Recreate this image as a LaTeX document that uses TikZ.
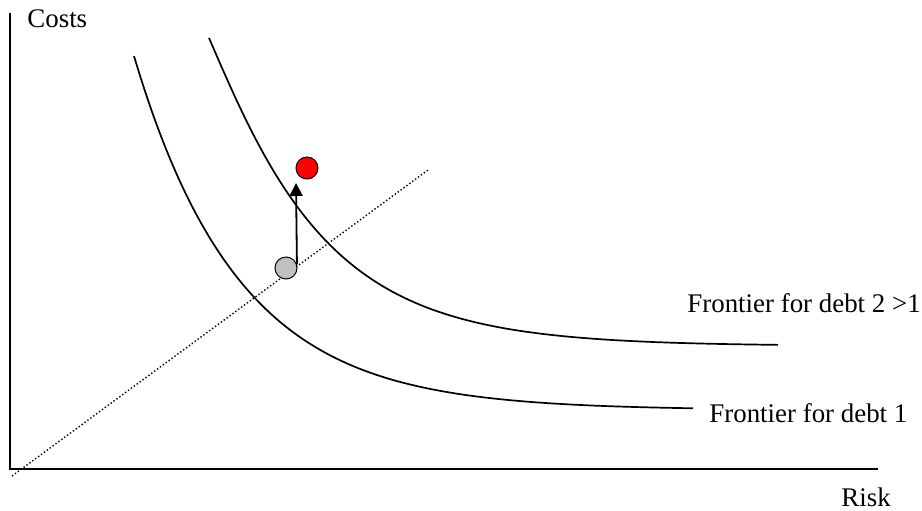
\documentclass[tikz,border=0pt]{standalone}
\usepackage{fontspec}
\setmainfont{Liberation Serif}
\usetikzlibrary{arrows.meta,positioning,calc}
\definecolor{pointGray}{RGB}{192, 192, 192}
\definecolor{pointRed}{RGB}{255, 0, 0}

\begin{document}
\begin{tikzpicture}[
  x=0.5pt,
  y=-0.5pt,
  label/.style={
    anchor=base west,
    inner sep=0pt,
    font=\fontsize{13.45}{16}\selectfont
  },
  point/.style={
    draw,
    circle,
    line width=0.5pt,
    minimum size=11pt,
    inner sep=0pt
  },
  axis/.style={line width=1pt},
  frontier/.style={line width=0.85pt,samples=90,smooth},
  arrow/.style={-{Triangle[length=6.5pt,width=6.5pt]},line width=0.9pt}
]
  \useasboundingbox (0,0) rectangle (922,510);
  % axes
  \coordinate (origin) at (10,469);
  \coordinate (ytop) at (10,13);
  \coordinate (xend) at (878,469);
  \draw[axis] (ytop) -- (origin) -- (xend);
  \node[label] (costs) at (27,27) {Costs};
  \node[label] (risk) at (841,506) {Risk};
  % dotted diagonal
  \coordinate (diagA) at (12,476);
  \coordinate (diagB) at (428,170);
  \draw[dash pattern=on 0.7pt off 1.1pt,line width=0.7pt] (diagA) -- (diagB);
  % frontiers
  \draw[frontier,domain=0:559]
    plot ({134+\x},{410-354*exp(-\x/105)});
  \draw[frontier,domain=0:569]
    plot ({209+\x},{346-308*exp(-(\x/100-0.1*(1-exp(-\x/40))))});
  \node[label] (debtTwo) at (687,312) {Frontier for debt 2 >1};
  \node[label] (debtOne) at (709,422) {Frontier for debt 1};
  % points
  \node[point,fill=pointGray] (before) at (286,268) {};
  \node[point,fill=pointRed] (after) at (307,168) {};
  \coordinate (tip) at (296,183);
  \draw[arrow] (before.18) -- (tip);
\end{tikzpicture}
\end{document}
